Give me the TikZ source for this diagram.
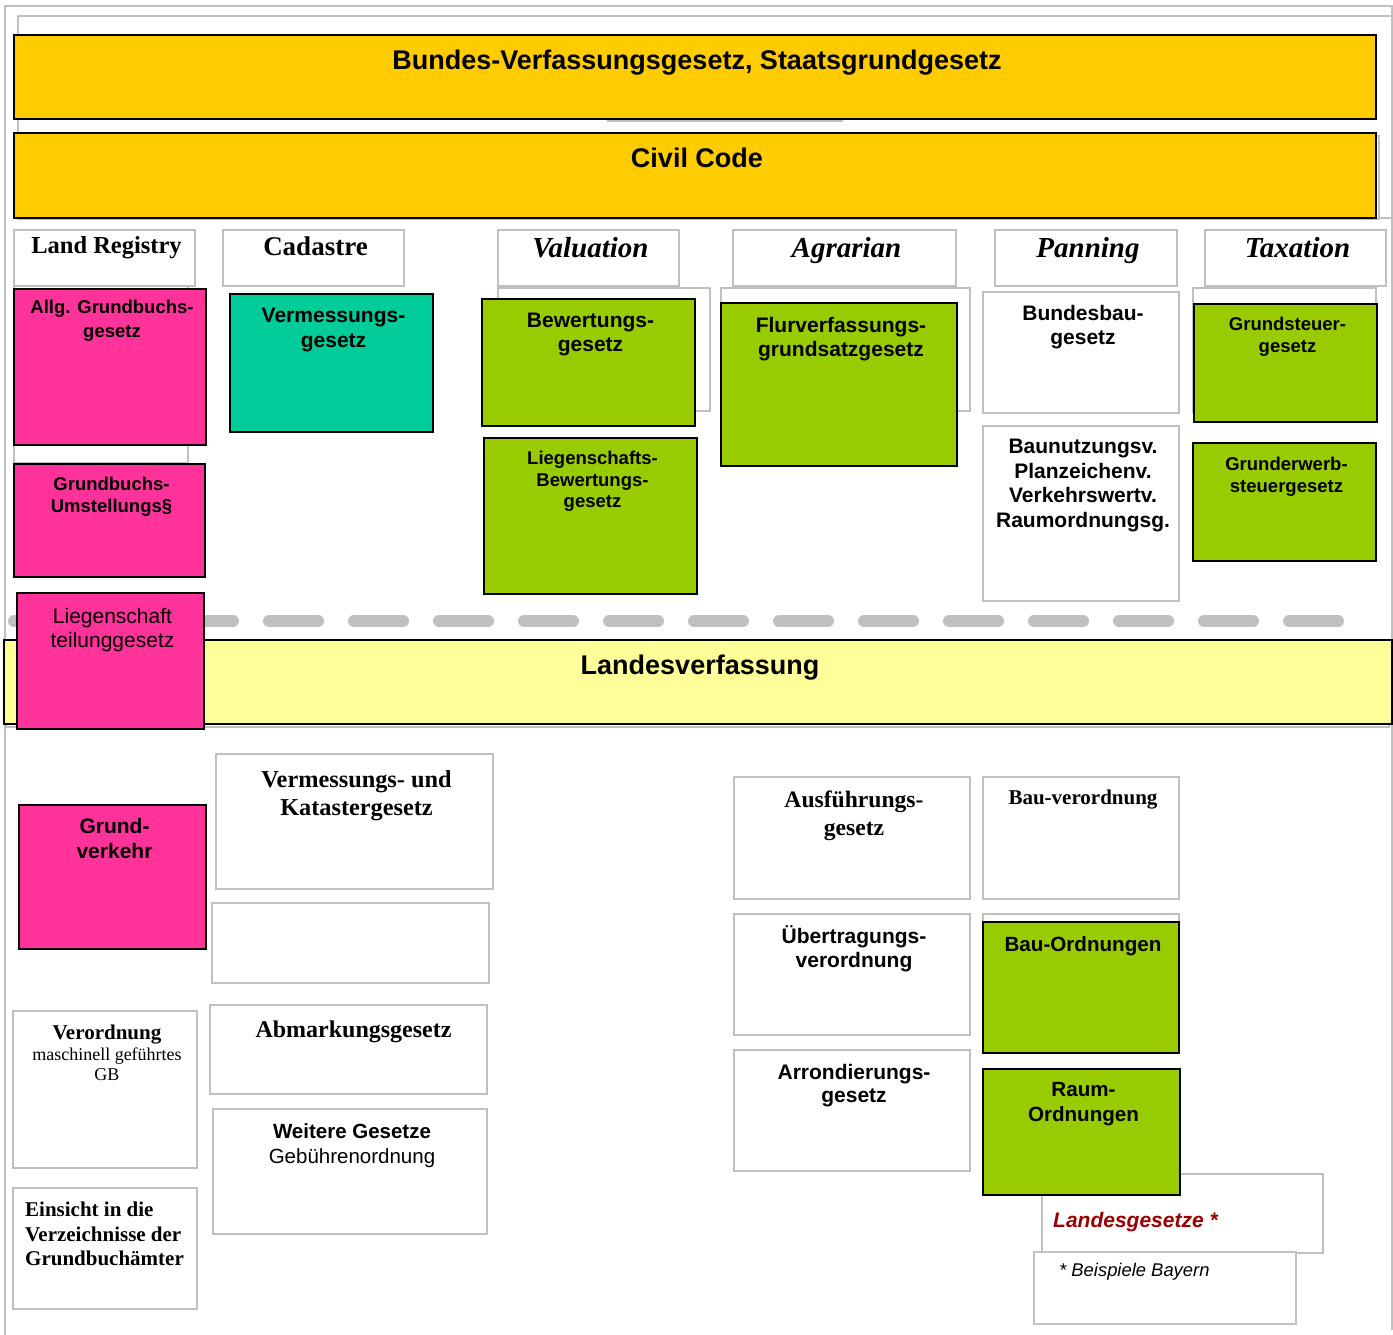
\documentclass[tikz,border=0pt]{standalone}
\usepackage{fontspec}
\setmainfont{Liberation Serif}
\setsansfont{Liberation Sans}
\definecolor{cYellow}{HTML}{FFCC00}
\definecolor{cPink}{HTML}{FF3399}
\definecolor{cTeal}{HTML}{00CC99}
\definecolor{cGreen}{HTML}{99CC00}
\definecolor{cLight}{HTML}{FFFF99}
\definecolor{cGrey}{HTML}{C0C0C0}
\definecolor{cRed}{HTML}{990000}
\newcommand\SB[2]{\sffamily\bfseries\fontsize{#1}{#2}\selectfont}
\newcommand\SR[2]{\sffamily\mdseries\fontsize{#1}{#2}\selectfont}
\newcommand\RB[2]{\rmfamily\bfseries\fontsize{#1}{#2}\selectfont}
\newcommand\RBI[2]{\rmfamily\bfseries\itshape\fontsize{#1}{#2}\selectfont}
\newcommand\mkbox[6]{\node[#2, minimum width={(#5-#3)*1pt}, minimum height={(#6-#4)*1pt}] (#1) at (#3,#4) {};}
\newcommand\mktxt[4]{\node[txt,font={#3}] (#1-t) at ([yshift=-#2pt]#1.north) {#4};}
\tikzset{
  boxbase/.style={anchor=north west, inner sep=0pt, outer sep=0pt},
  blk/.style={boxbase, draw=black, line width=2pt},
  gry/.style={boxbase, draw=cGrey, line width=2pt, fill=white},
  gryline/.style={draw=cGrey, line width=2pt},
  txt/.style={anchor=north, align=center, inner sep=0pt, xshift=2pt},
  yel/.style={blk, fill=cYellow},
  pnk/.style={blk, fill=cPink},
  tel/.style={blk, fill=cTeal},
  grn/.style={blk, fill=cGreen},
  lyl/.style={blk, fill=cLight},
}
\begin{document}
\begin{tikzpicture}[x=1pt,y=-1pt]
\useasboundingbox[fill=white] (0,0) rectangle (1393,1335);
% frame lines
\draw[gryline] (5,1335) -- (5,6) -- (1392,6) -- (1392,1330);
\draw[gryline] (18,132) -- (18,16) -- (1392,16);
\draw[gryline] (1379,218) -- (1392,218);
\coordinate (segL) at (607,121);
\coordinate (segR) at (843,121);
\draw[gryline] (segL) -- (segR);
% grey decoration rectangles
\mkbox{gB}{gry}{18}{136}{1379}{219}
\mkbox{gC}{gry}{14}{280}{188}{463}
\mkbox{gD}{gry}{498}{288}{710}{411}
\mkbox{gE}{gry}{721}{288}{970}{411}
\mkbox{gF}{gry}{1193}{288}{1376}{412}
\mkbox{gG}{gry}{983}{914}{1179}{1035}
\mkbox{gH}{gry}{6}{646}{1389}{727}
% federal
\mkbox{bundes}{yel}{14}{35}{1376}{119}
\mktxt{bundes}{15}{\SB{27}{32}}{Bundes-Verfassungsgesetz, Staatsgrundgesetz}
\mkbox{civil}{yel}{14}{133}{1376}{218}
\mktxt{civil}{15}{\SB{27}{32}}{Civil Code}
% headers
\mkbox{hland}{gry}{14}{230}{195}{286}
\mktxt{hland}{6}{\RB{24.5}{28}}{Land Registry}
\mkbox{hcad}{gry}{223}{230}{404}{286}
\mktxt{hcad}{7}{\RB{27}{30}}{Cadastre}
\mkbox{hval}{gry}{498}{230}{679}{286}
\mktxt{hval}{7}{\RBI{29}{32}}{Valuation}
\mkbox{hagr}{gry}{733}{230}{956}{286}
\mktxt{hagr}{7}{\RBI{29}{32}}{Agrarian}
\mkbox{hpan}{gry}{995}{230}{1177}{286}
\mktxt{hpan}{7}{\RBI{29}{32}}{Panning}
\mkbox{htax}{gry}{1205}{230}{1386}{286}
\mktxt{htax}{7}{\RBI{29}{32}}{Taxation}
% upper boxes
\mkbox{allg}{pnk}{14}{289}{206}{445}
\mktxt{allg}{11}{\SB{18.5}{23.5}}{Allg. Grundbuchs-\\gesetz}
\mkbox{gbu}{pnk}{14}{464}{205}{577}
\mktxt{gbu}{13}{\SB{18.5}{22}}{Grundbuchs-\\Umstellungs§}
\mkbox{verm}{tel}{230}{294}{433}{432}
\mktxt{verm}{14}{\SB{21}{24.5}}{Vermessungs-\\gesetz}
\mkbox{bew}{grn}{482}{299}{695}{426}
\mktxt{bew}{14}{\SB{21}{24}}{Bewertungs-\\gesetz}
\mkbox{liegbew}{grn}{484}{438}{697}{594}
\mktxt{liegbew}{13}{\SB{18.5}{21.5}}{Liegenschafts-\\Bewertungs-\\gesetz}
\mkbox{flur}{grn}{721}{303}{957}{466}
\mktxt{flur}{14}{\SB{21}{24.5}}{Flurverfassungs-\\grundsatzgesetz}
\mkbox{bbau}{gry}{983}{292}{1179}{413}
\mktxt{bbau}{13}{\SB{21}{24}}{Bundesbau-\\gesetz}
\mkbox{baunutz}{gry}{983}{426}{1179}{601}
\mktxt{baunutz}{13}{\SB{21}{24.5}}{Baunutzungsv.\\Planzeichenv.\\Verkehrswertv.\\Raumordnungsg.}
\mkbox{gsteuer}{grn}{1194}{304}{1377}{422}
\mktxt{gsteuer}{13}{\SB{18.5}{22}}{Grundsteuer-\\gesetz}
\mkbox{gerwerb}{grn}{1193}{443}{1376}{561}
\mktxt{gerwerb}{14}{\SB{18.5}{22}}{Grunderwerb-\\steuergesetz}
% dashed separator
\coordinate (dashL) at (14,621);
\coordinate (dashR) at (1338,621);
\draw[cGrey, line width=12pt, line cap=round, dash pattern=on 49pt off 36pt] (dashL) -- (dashR);
% Land level
\mkbox{landesv}{lyl}{4}{640}{1392}{724}
\mktxt{landesv}{15}{\SB{27}{32}}{Landesverfassung}
\mkbox{liegteil}{pnk}{17}{593}{204}{729}
\mktxt{liegteil}{15}{\SR{21}{24.5}}{Liegenschaft\\teilunggesetz}
% lower boxes
\mkbox{gverk}{pnk}{19}{805}{206}{949}
\mktxt{gverk}{13}{\SB{21}{25}}{Grund-\\verkehr}
\mkbox{vermkat}{gry}{216}{754}{493}{889}
\mktxt{vermkat}{16}{\RB{24.3}{28}}{Vermessungs- und\\Katastergesetz}
\mkbox{empty}{gry}{212}{903}{489}{983}
\mkbox{abmark}{gry}{210}{1005}{487}{1094}
\node[txt, xshift=3pt, font={\RB{24}{28}}] (abmark-t) at ([yshift=-16pt]abmark.north) {Abmarkungsgesetz};
\mkbox{weitere}{gry}{213}{1109}{487}{1234}
\mktxt{weitere}{14}{\SR{20.5}{25}}{\bfseries Weitere Gesetze\\Gebührenordnung}
\mkbox{verord}{gry}{13}{1011}{197}{1168}
\mktxt{verord}{14}{\rmfamily\fontsize{18}{20.5}\selectfont}{{\fontsize{21}{20.5}\selectfont\bfseries Verordnung}\\maschinell geführtes\\GB}
\mkbox{einsicht}{gry}{13}{1188}{197}{1309}
\node[anchor=north west, align=left, inner sep=0pt, font={\RB{21}{24.5}}] (einsicht-t) at ([xshift=12pt,yshift=-14pt]einsicht.north west) {Einsicht in die\\Verzeichnisse der\\Grundbuchämter};
\mkbox{ausf}{gry}{734}{777}{970}{899}
\mktxt{ausf}{14}{\RB{23.6}{28}}{Ausführungs-\\gesetz}
\mkbox{bauvo}{gry}{983}{777}{1179}{899}
\mktxt{bauvo}{13}{\RB{21}{25}}{Bau-verordnung}
\mkbox{uebertr}{gry}{734}{914}{970}{1035}
\mktxt{uebertr}{11}{\SB{21}{24}}{Übertragungs-\\verordnung}
\mkbox{bauord}{grn}{983}{922}{1179}{1053}
\mktxt{bauord}{14}{\SB{20.6}{24}}{Bau-Ordnungen}
\mkbox{arrond}{gry}{734}{1050}{970}{1171}
\mktxt{arrond}{14}{\SB{21}{23.5}}{Arrondierungs-\\gesetz}
\mkbox{landesg}{gry}{1042}{1174}{1323}{1253}
\node[anchor=north west, inner sep=0pt, text=cRed, font={\sffamily\bfseries\itshape\fontsize{21}{25}\selectfont}] (landesg-t) at ([xshift=11pt,yshift=-38pt]landesg.north west) {Landesgesetze *};
\mkbox{raumord}{grn}{983}{1069}{1180}{1195}
\mktxt{raumord}{13}{\SB{20.6}{25}}{Raum-\\Ordnungen}
\mkbox{beisp}{gry}{1034}{1252}{1296}{1324}
\node[anchor=north west, inner sep=0pt, font={\sffamily\itshape\fontsize{18.4}{22}\selectfont}] (beisp-t) at ([xshift=25pt,yshift=-11pt]beisp.north west) {* Beispiele Bayern};
\end{tikzpicture}
\end{document}
